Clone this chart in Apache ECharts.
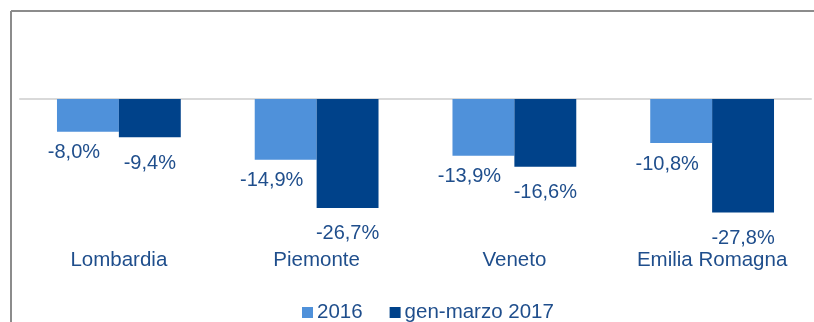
<!DOCTYPE html>
<html>
<head>
<meta charset="utf-8">
<script src="https://cdn.jsdelivr.net/npm/echarts@6/dist/echarts.min.js"></script>
<style>
  html, body { margin: 0; padding: 0; background: #ffffff; }
  #chart { width: 814px; height: 322px; }
</style>
</head>
<body>
<div id="chart"></div>
<script>
// Regions and percentage changes
const regions = ['Lombardia', 'Piemonte', 'Veneto', 'Emilia Romagna'];
const seriesNames = ['2016', 'gen-marzo 2017'];
const values2016 = [-8.0, -14.9, -13.9, -10.8];
const values2017 = [-9.4, -26.7, -16.6, -27.8];

const FONT = '"Liberation Sans", Arial, sans-serif';
const TEXT_COLOR = '#1F4E8C';
const LIGHT = '#4F91DA';
const DARK = '#00428A';

const fmt = (p) => p.value.toFixed(1).replace('.', ',') + '%';

const chart = echarts.init(document.getElementById('chart'), null, { renderer: 'canvas' });

chart.setOption({
  animation: false,
  backgroundColor: '#ffffff',
  textStyle: { fontFamily: FONT },
  graphic: [
    // Frame around the chart area
    { type: 'line', shape: { x1: 11, y1: 11, x2: 814, y2: 11 },
      style: { stroke: '#8c8c8c', lineWidth: 2 }, silent: true },
    { type: 'line', shape: { x1: 11, y1: 11, x2: 11, y2: 322 },
      style: { stroke: '#8c8c8c', lineWidth: 2 }, silent: true }
  ],
  grid: { left: 20, right: 3, top: 99, height: 122.4, containLabel: false },
  legend: {
    data: seriesNames,
    left: 297,
    top: 297,
    itemWidth: 11,
    itemHeight: 11,
    itemGap: 27,
    icon: 'rect',
    textStyle: { fontFamily: FONT, fontSize: 20.5, color: TEXT_COLOR, padding: [0, 0, 0, -1] }
  },
  xAxis: [
    {
      type: 'category',
      data: regions,
      position: 'bottom',
      axisLine: { show: false },
      axisTick: { show: false },
      axisLabel: { margin: 28, fontFamily: FONT, fontSize: 20.5, color: TEXT_COLOR }
    },
    {
      // zero baseline along the top edge of the grid
      type: 'category',
      data: regions,
      position: 'top',
      axisLine: { show: true, lineStyle: { color: '#d9d9d9', width: 2 } },
      axisTick: { show: false },
      axisLabel: { show: false }
    }
  ],
  yAxis: {
    type: 'value',
    min: -30,
    max: 0,
    interval: 30,
    show: false,
    splitLine: { show: false }
  },
  series: [
    {
      name: seriesNames[0],
      type: 'bar',
      data: values2016,
      barGap: '0%',
      barCategoryGap: '37.4%',
      itemStyle: { color: LIGHT },
      label: {
        show: true,
        position: 'bottom',
        distance: 11,
        offset: [-14, 0],
        formatter: fmt,
        fontFamily: FONT,
        fontSize: 20,
        color: TEXT_COLOR
      }
    },
    {
      name: seriesNames[1],
      type: 'bar',
      data: values2017,
      barGap: '0%',
      barCategoryGap: '37.4%',
      itemStyle: { color: DARK },
      label: {
        show: true,
        position: 'bottom',
        distance: 16,
        formatter: fmt,
        fontFamily: FONT,
        fontSize: 20,
        color: TEXT_COLOR
      }
    }
  ]
});
</script>
</body>
</html>
